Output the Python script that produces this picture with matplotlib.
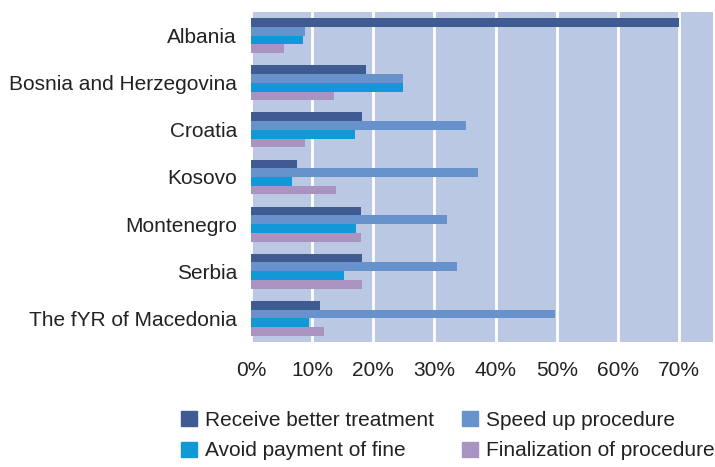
import matplotlib
matplotlib.use("Agg")
import matplotlib.pyplot as plt
import numpy as np
from matplotlib.patches import Patch

categories = ["Albania", "Bosnia and Herzegovina", "Croatia", "Kosovo",
              "Montenegro", "Serbia", "The fYR of Macedonia"]
receive_better = [70.0, 18.8, 18.1, 7.5, 18.0, 18.1, 11.3]
speed_up = [8.8, 24.8, 35.1, 37.1, 32.0, 33.7, 49.7]
avoid_fine = [8.5, 24.8, 17.0, 6.7, 17.2, 15.2, 9.5]
finalization = [5.4, 13.6, 8.8, 13.9, 18.0, 18.1, 11.9]
series_names = ["Receive better treatment", "Speed up procedure",
                "Avoid payment of fine", "Finalization of procedure"]
xticks = [0, 10, 20, 30, 40, 50, 60, 70]

colors = ["#3F5B91", "#6792CB", "#1198D6", "#A993C0"]
series = [receive_better, speed_up, avoid_fine, finalization]

plt.rcParams['font.family'] = ['Liberation Sans', 'DejaVu Sans']
fig = plt.figure(figsize=(7.15, 4.67), dpi=100)
ax = fig.add_axes([0.351, 0.268, 0.646, 0.706])
ax.set_facecolor("#BAC8E4")

y = np.arange(len(categories))
h = 0.185
offsets = [-1.5 * h, -0.5 * h, 0.5 * h, 1.5 * h]
for vals, c, off in zip(series, colors, offsets):
    ax.barh(y + off, vals, height=h, color=c, zorder=3)

ax.set_ylim(len(categories) - 0.5, -0.5)
ax.set_xlim(0, 75.5)
ax.set_xticks(xticks)
ax.set_xticklabels([f"{t}%" for t in xticks])
ax.set_yticks(y)
ax.set_yticklabels(categories)
ax.grid(axis="x", color="white", linewidth=2, zorder=1)
ax.set_axisbelow(True)
for s in ax.spines.values():
    s.set_visible(False)
ax.tick_params(axis="both", length=0, labelsize=15, colors="#222222")
ax.tick_params(axis="x", pad=14)
ax.tick_params(axis="y", pad=10)

handles = [Patch(color=colors[0]), Patch(color=colors[2]),
           Patch(color=colors[1]), Patch(color=colors[3])]
labels = [series_names[0], series_names[2], series_names[1], series_names[3]]
leg = fig.legend(handles, labels, ncol=2, loc="upper left",
                 bbox_to_anchor=(0.253, 0.12), frameon=False,
                 fontsize=15, handlelength=0.75, handleheight=0.75,
                 handletextpad=0.4, columnspacing=1.35, labelspacing=0.55,
                 borderaxespad=0, borderpad=0)
for t in leg.get_texts():
    t.set_color("#222222")

fig.savefig("out.png", dpi=100)
